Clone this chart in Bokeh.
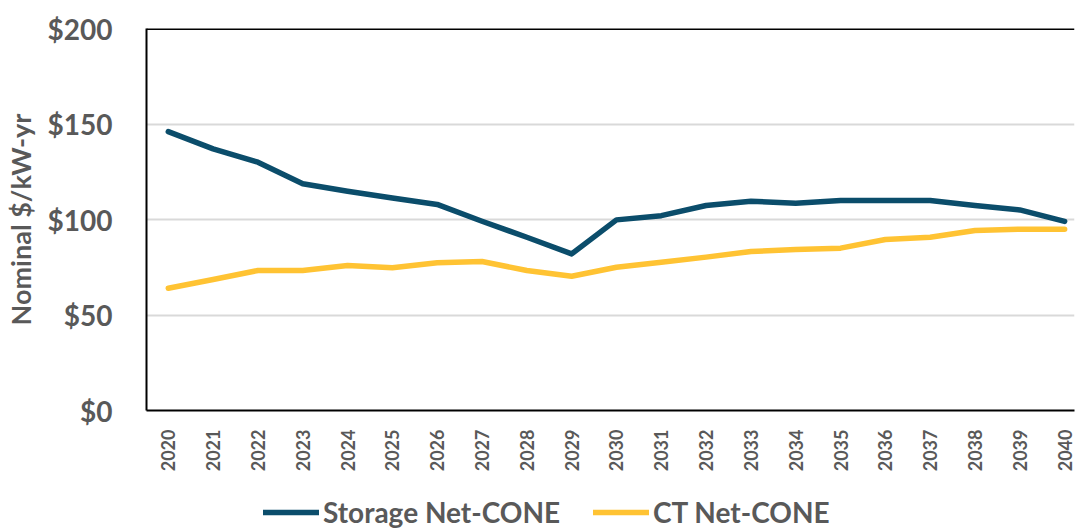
from bokeh.plotting import figure
from bokeh.layouts import column
from bokeh.models import (Range1d, FixedTicker, NumeralTickFormatter, Legend, LegendItem, Span)
from bokeh.embed import file_html
from bokeh.resources import INLINE
import math

years = list(range(2020, 2041))
storage = [146, 137, 130, 118.7, 114.8, 111.3, 107.9, 99.1, 90.7, 82,
           99.8, 102, 107.3, 109.6, 108.5, 110, 110, 110, 107.3, 105, 99]
ct = [64, 68.6, 73.3, 73.3, 75.9, 74.7, 77.3, 78, 73.3, 70.3,
      75, 77.6, 80.3, 83.2, 84.3, 85, 89.5, 90.7, 94.2, 94.9, 94.9]
y_ticks = [0, 50, 100, 150, 200]
y_title = "Nominal $/kW-yr"
series_names = ["Storage Net-CONE", "CT Net-CONE"]

FONT = "Lato"
GRAY = "#595959"
NAVY = "#0B4D6B"
GOLD = "#FFC333"
LW = 5.5

p = figure(width=1076, height=475, output_backend="svg", toolbar_location=None,
           x_range=Range1d(2019.514, 2040.22), y_range=Range1d(0, 200),
           min_border_left=137, min_border_top=28, min_border_right=2,
           min_border_bottom=65)
p.outline_line_color = None
p.background_fill_color = "white"
p.border_fill_color = "white"

p.line(years, storage, line_color=NAVY, line_width=LW, line_cap="round", line_join="round")
p.line(years, ct, line_color=GOLD, line_width=LW, line_cap="round", line_join="round")

p.xgrid.grid_line_color = None
p.ygrid.grid_line_color = "#D9D9D9"
p.ygrid.grid_line_width = 2
p.yaxis.ticker = FixedTicker(ticks=y_ticks)
p.xaxis.ticker = FixedTicker(ticks=years)

for ax in (p.xaxis[0], p.yaxis[0]):
    ax.axis_line_color = "black"
    ax.axis_line_width = 2
    ax.major_tick_line_color = None
    ax.minor_tick_line_color = None
    ax.major_label_text_font = FONT
    ax.major_label_text_font_style = "bold"
    ax.major_label_text_color = GRAY

p.yaxis.formatter = NumeralTickFormatter(format="$0")
p.yaxis.major_label_text_font_size = "28px"
p.yaxis.major_label_standoff = 28
p.yaxis.axis_label = y_title
p.yaxis.axis_label_text_font = FONT
p.yaxis.axis_label_text_font_style = "bold"
p.yaxis.axis_label_text_font_size = "27px"
p.yaxis.axis_label_text_color = GRAY
p.yaxis.axis_label_standoff = 8

p.xaxis.major_label_orientation = math.pi / 2
p.xaxis.major_label_text_font_size = "18px"
p.xaxis.major_label_standoff = 13

top = Span(location=200, dimension="width", line_color="black", line_width=3)
p.add_layout(top)

# Legend strip below the chart (same series, drawn out of view so only the legend shows)
lg = figure(width=1076, height=56, output_backend="svg", toolbar_location=None,
            x_range=Range1d(2019.514, 2040.22), y_range=Range1d(1000, 1001),
            x_axis_location=None, y_axis_location=None,
            min_border_left=0, min_border_right=0, min_border_top=0, min_border_bottom=0)
lg.outline_line_color = None
lg.xgrid.grid_line_color = None
lg.ygrid.grid_line_color = None
l1 = lg.line(years, storage, line_color=NAVY, line_width=LW, line_cap="round")
l2 = lg.line(years, ct, line_color=GOLD, line_width=LW, line_cap="round")

legend = Legend(items=[LegendItem(label=series_names[0], renderers=[l1]),
                       LegendItem(label=series_names[1], renderers=[l2])],
                location=(117, 2), orientation="horizontal",
                label_text_font=FONT, label_text_font_style="bold",
                label_text_font_size="28px", label_text_color=GRAY,
                glyph_width=56, glyph_height=20, label_standoff=4, spacing=33,
                padding=0, margin=0, border_line_color=None,
                background_fill_alpha=0)
lg.add_layout(legend, "center")

layout = column(p, lg, spacing=0)
open("out.html", "w").write(file_html(layout, INLINE))
